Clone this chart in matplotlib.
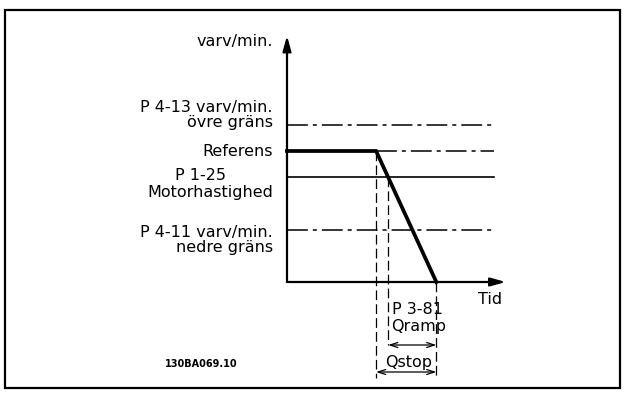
import matplotlib
matplotlib.use("Agg")
import matplotlib.pyplot as plt
from matplotlib.patches import Rectangle

plt.rcParams["font.family"] = ["DejaVu Sans"]
plt.rcParams["lines.scale_dashes"] = False

# Speed levels (rpm, reference = 100) and time marks of the quick-stop ramp
speed_upper = 120      # P 4-13 upper limit
speed_ref = 100        # reference
speed_motor = 80       # P 1-25 motor speed
speed_lower = 40       # P 4-11 lower limit
t_ramp_start = 68      # quick stop issued
t_stop = 114           # motor at standstill
t_end = 158            # end of level lines
t_axis_end = 167       # x-axis arrow tip
speed_axis_end = 188   # y-axis arrow tip

# time where the ramp passes the motor speed
t_motor = t_ramp_start + (t_stop - t_ramp_start) * (speed_ref - speed_motor) / speed_ref

W, H, DPI = 627, 400, 100
SCALE = 1.31                     # pixels per unit
ORIGIN = (287, 282)              # axis crossing in pixels

fig = plt.figure(figsize=(W / DPI, H / DPI), dpi=DPI)
ax = fig.add_axes([0, 0, 1, 1])
ax.set_xlim(-ORIGIN[0] / SCALE, (W - ORIGIN[0]) / SCALE)
ax.set_ylim((ORIGIN[1] - H) / SCALE, ORIGIN[1] / SCALE)
ax.axis("off")


def px(x, y):
    """Pixel position -> data position."""
    return (x - ORIGIN[0]) / SCALE, (ORIGIN[1] - y) / SCALE


# frame
fig.patches.append(Rectangle((5 / W, 1 - 388 / H), 615 / W, 378 / H,
                             transform=fig.transFigure, fill=False,
                             lw=1.6, ec="black"))

dashdot = (0, (15.0, 3.6, 2.9, 3.6))
dashed = (0, (7.0, 3.0))

# limit and reference lines
ax.plot([0, t_end], [speed_upper, speed_upper], color="black", lw=1.1, ls=dashdot)
ax.plot([0, t_end], [speed_lower, speed_lower], color="black", lw=1.1, ls=dashdot)
ax.plot([t_ramp_start, t_end], [speed_ref, speed_ref], color="black", lw=1.1, ls=dashdot)
ax.plot([0, t_end], [speed_motor, speed_motor], color="black", lw=1.2)

# speed profile
ax.plot([0, t_ramp_start, t_stop], [speed_ref, speed_ref, 0],
        color="black", lw=2.7, solid_joinstyle="miter")

# axes with arrows
head = dict(arrowstyle="-|>,head_length=0.9,head_width=0.25", lw=1.6,
            color="black", shrinkA=0, shrinkB=0, mutation_scale=10)
ax.annotate("", xy=(0, speed_axis_end), xytext=(0, 0), arrowprops=head)
ax.annotate("", xy=(t_axis_end, 0), xytext=(0, 0), arrowprops=head)

# vertical guide lines
y_qramp = px(0, 345)[1]
y_qstop = px(0, 372)[1]
y_bottom = px(0, 378)[1]
ax.plot([t_ramp_start, t_ramp_start], [speed_ref, y_bottom], color="black", lw=0.9, ls=dashed)
ax.plot([t_motor, t_motor], [speed_motor, y_qramp], color="black", lw=0.9, ls=dashed)
ax.plot([t_stop, t_stop], [0, y_bottom], color="black", lw=0.9, ls=dashed)

# dimension arrows
dim = dict(arrowstyle="<->,head_length=0.55,head_width=0.18", lw=0.9,
           color="black", shrinkA=0, shrinkB=0, mutation_scale=10)
ax.annotate("", xy=(t_motor, y_qramp), xytext=(t_stop, y_qramp), arrowprops=dim)
ax.annotate("", xy=(t_ramp_start, y_qstop), xytext=(t_stop, y_qstop), arrowprops=dim)

fs = 11.5


def label(x, y, s, ha="right", **kw):
    ax.text(*px(x, y), s, ha=ha, va="baseline", fontsize=fs, **kw)


label(273, 46, "varv/min.")
label(273, 112, "P 4-13 varv/min.")
label(273, 127, "övre gräns")
label(273, 156, "Referens")
label(175, 180, "P 1-25", ha="left")
label(273, 197, "Motorhastighed")
label(273, 237, "P 4-11 varv/min.")
label(273, 252, "nedre gräns")
label(478, 304, "Tid", ha="left")
label(392, 314, "P 3-81", ha="left")
label(391, 331, "Qramp", ha="left")
label(385, 367, "Qstop", ha="left")
ax.text(*px(165, 367), "130BA069.10", ha="left", va="baseline", fontsize=7,
        fontweight="bold")

fig.savefig("out.png", dpi=DPI)
